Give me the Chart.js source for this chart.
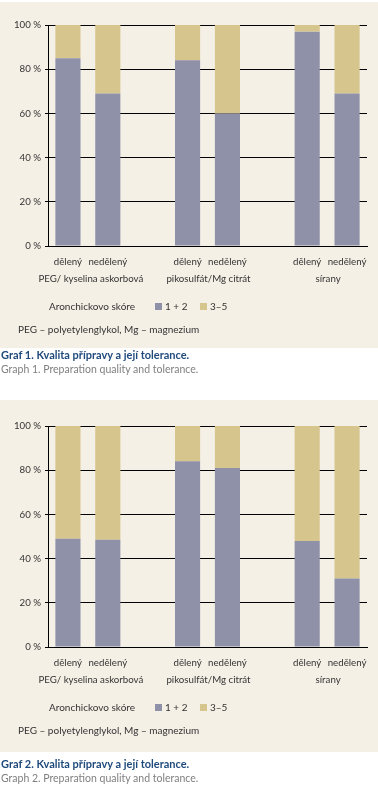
<!DOCTYPE html>
<html>
<head>
<meta charset="utf-8">
<script src="https://cdn.jsdelivr.net/npm/chart.js@4.4.1/dist/chart.umd.min.js"></script>
<style>
  html,body{margin:0;padding:0;background:#fff;width:378px;height:792px;overflow:hidden;font-family:Lato,sans-serif;}
  .panel{position:absolute;left:0;width:378px;background:#f5f0e6;}
  .panel canvas{position:absolute;left:0;top:0;}
  .txt{position:absolute;white-space:nowrap;font-size:10px;color:#333;line-height:12px;}
  .box{position:absolute;width:7px;height:7px;}
  .cap1{position:absolute;left:1px;font-size:11px;font-weight:bold;color:#1f4a7c;white-space:nowrap;}
  .cap2{position:absolute;left:1px;font-size:10.5px;color:#808080;white-space:nowrap;}
</style>
</head>
<body>
<script>
// ---- data ----
const categories = ["dělený","nedělený","","dělený","nedělený","","dělený","nedělený"];
const groupLabels = ["PEG/ kyselina askorbová","pikosulfát/Mg citrát","sírany"];
const seriesNames = ["1 + 2","3–5"];
const yTicks = [0,20,40,60,80,100];
// Graf 1
const g1_score12 = [85, 69, null, 84, 60, null, 97, 69];
const g1_score35 = [15, 31, null, 16, 40, null, 3, 31];
// Graf 2
const g2_score12 = [49, 48.5, null, 84, 81, null, 48, 31];
const g2_score35 = [51, 51.5, null, 16, 19, null, 52, 69];
const legendTitle = "Aronchickovo skóre";
const footnote = "PEG – polyetylenglykol, Mg – magnezium";

const COL12 = "#8f91a8", COL35 = "#d6c58d";
const FONT = "Lato, sans-serif";
const FS = 9.7;

function addText(parent, text, left, top) {
  const d = document.createElement('div');
  d.className = 'txt';
  d.style.left = left + 'px';
  d.style.top = top + 'px';
  d.textContent = text;
  parent.appendChild(d);
}
function addBox(parent, col, left, top) {
  const d = document.createElement('div');
  d.className = 'box';
  d.style.left = left + 'px';
  d.style.top = top + 'px';
  d.style.background = col;
  parent.appendChild(d);
}

function build(panelTop, panelH, plotTop, plotBottom, d12, d35, capTop, n) {
  const panel = document.createElement('div');
  panel.className = 'panel';
  panel.style.top = panelTop + 'px';
  panel.style.height = panelH + 'px';
  document.body.appendChild(panel);
  const cv = document.createElement('canvas');
  cv.width = 378; cv.height = panelH;
  cv.style.width = '378px'; cv.style.height = panelH + 'px';
  panel.appendChild(cv);

  // legend + footnote
  const ly = plotBottom + 60;
  addText(panel, legendTitle, 49, ly - 6);
  addBox(panel, COL12, 155, ly - 3);
  addText(panel, seriesNames[0], 165, ly - 6);
  addBox(panel, COL35, 200, ly - 3);
  addText(panel, seriesNames[1], 210, ly - 6);
  addText(panel, footnote, 18, plotBottom + 83 - 6);

  const c1 = document.createElement('div');
  c1.className = 'cap1';
  c1.style.top = capTop + 'px';
  c1.textContent = 'Graf ' + n + '. Kvalita přípravy a její tolerance.';
  document.body.appendChild(c1);
  const c2 = document.createElement('div');
  c2.className = 'cap2';
  c2.style.top = (capTop + 15) + 'px';
  c2.textContent = 'Graph ' + n + '. Preparation quality and tolerance.';
  document.body.appendChild(c2);

  const groupPlugin = {
    id: 'groups',
    afterDraw(chart) {
      const ctx = chart.ctx, xs = chart.scales.x;
      ctx.save();
      ctx.font = FS + "px " + FONT;
      ctx.fillStyle = '#333';
      ctx.textAlign = 'center';
      ctx.textBaseline = 'middle';
      groupLabels.forEach((g, i) => {
        const a = xs.getPixelForValue(i * 3), b = xs.getPixelForValue(i * 3 + 1);
        ctx.fillText(g, (a + b) / 2 + (i === 0 ? 3 : 1), chart.chartArea.bottom + 33);
      });
      ctx.restore();
    }
  };

  new Chart(cv, {
    type: 'bar',
    data: {
      labels: categories,
      datasets: [
        {label: seriesNames[0], data: d12, backgroundColor: COL12, borderWidth: 0},
        {label: seriesNames[1], data: d35, backgroundColor: COL35, borderWidth: 0}
      ]
    },
    options: {
      responsive: false, animation: false,
      layout: {padding: {top: plotTop, right: 11, left: 0, bottom: 0}},
      datasets: {bar: {categoryPercentage: 1, barPercentage: 0.63}},
      plugins: {legend: {display: false}, tooltip: {enabled: false}},
      scales: {
        x: {
          stacked: true,
          grid: {display: false, drawTicks: false},
          border: {display: true, color: '#000', width: 1},
          ticks: {color: '#333', font: {family: FONT, size: FS}, padding: 10, autoSkip: false, maxRotation: 0},
          afterFit(s) { s.height = panelH - plotBottom; }
        },
        y: {
          stacked: true, min: 0, max: 100,
          afterBuildTicks(s) { s.ticks = yTicks.map(v => ({value: v})); },
          grid: {color: '#000', lineWidth: 1, borderDash: [1, 2], tickLength: 3, tickColor: '#000', tickBorderDash: [], drawTicks: true},
          border: {display: true, color: '#000', width: 1},
          ticks: {color: '#333', font: {family: FONT, size: FS}, padding: 4, callback: v => v + ' %'},
          afterFit(s) { s.width = 48; }
        }
      }
    },
    plugins: [groupPlugin]
  });
}

build(2, 346, 23, 244, g1_score12, g1_score35, 348, 1);
build(400, 352, 26, 247, g2_score12, g2_score35, 757, 2);
</script>
</body>
</html>
